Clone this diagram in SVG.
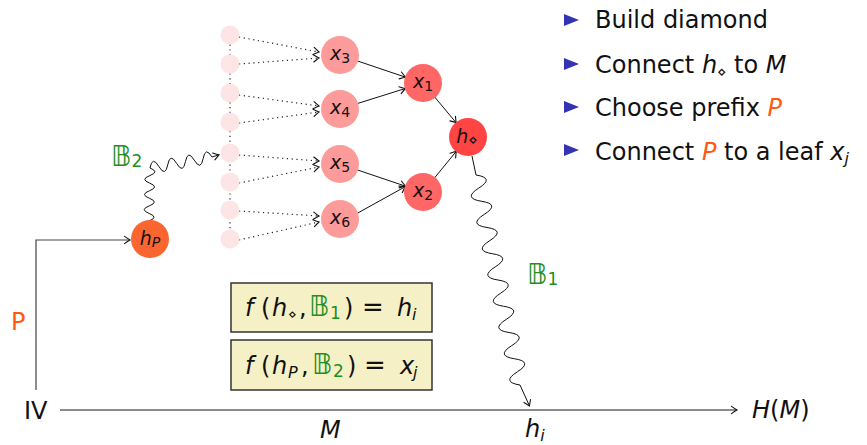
<svg xmlns="http://www.w3.org/2000/svg" width="867" height="445" viewBox="0 0 867 445">
<style>
text{font-family:"DejaVu Sans","Liberation Sans",sans-serif;fill:#111}
.it{font-style:italic}
.g{fill:#1f8f1f}
.o{fill:#ff5a0f}
.ln{fill:none;stroke:#111;stroke-width:1}
.dot{fill:none;stroke:#222;stroke-width:1.2;stroke-dasharray:1.2 3.6}
.snk{fill:none;stroke:#111;stroke-width:1}
.box{fill:#f5f0c6;stroke:#333;stroke-width:1.5}
.nt{font-size:19px}
.sb{font-size:14px}
</style>
<defs>
<marker id="arr" viewBox="-7 -5 8 10" refX="0" refY="0" markerWidth="8" markerHeight="10" orient="auto" markerUnits="userSpaceOnUse">
<path d="M-5.5,-3.6 Q-1.6,-0.9 0,0 Q-1.6,0.9 -5.5,3.6" fill="none" stroke="#111" stroke-width="1.1" stroke-linecap="round"/>
</marker>
</defs>

<g id="connectors">
<path class="dot" d="M230,35 V239" stroke="#999"/>
<path class="dot" d="M239,37 L319,52" marker-end="url(#arr)"/>
<path class="dot" d="M239,64 L319,58" marker-end="url(#arr)"/>
<path class="dot" d="M239,95 L319,106" marker-end="url(#arr)"/>
<path class="dot" d="M239,123 L319,112" marker-end="url(#arr)"/>
<path class="dot" d="M239,155 L319,161" marker-end="url(#arr)"/>
<path class="dot" d="M239,183 L319,167" marker-end="url(#arr)"/>
<path class="dot" d="M239,211 L319,216" marker-end="url(#arr)"/>
<path class="dot" d="M239,240 L319,222" marker-end="url(#arr)"/>
<path class="ln" d="M357,60.8 L405.5,77.2" marker-end="url(#arr)"/>
<path class="ln" d="M357.2,103.6 L405.3,88.5" marker-end="url(#arr)"/>
<path class="ln" d="M357,169.8 L405.5,186.2" marker-end="url(#arr)"/>
<path class="ln" d="M357.1,213.4 L405.4,186.6" marker-end="url(#arr)"/>
<path class="ln" d="M434.5,96.8 L456.2,122.8" marker-end="url(#arr)"/>
<path class="ln" d="M434.4,178.1 L456.3,151.3" marker-end="url(#arr)"/>
<path class="snk" d="M149,221 q10,-3.8 0.14,-7.57 t0.14,-7.57 t0.14,-7.57 t0.14,-7.57 t0.14,-7.57 t0.14,-7.57 t0.14,-7.57 q2.33,-12.6 8.86,-1.57 t8.86,-1.57 t8.86,-1.57 t8.86,-1.57 t8.86,-1.57 t8.86,-1.57 t8.86,-1.57 l7,-2.2" marker-end="url(#arr)"/>
<path class="snk" d="M472,156 L476,175 q19,2.9 2.75,13.125 t2.75,13.125 t2.75,13.125 t2.75,13.125 t2.75,13.125 t2.75,13.125 t2.75,13.125 t2.75,13.125 t2.75,13.125 t2.75,13.125 t2.75,13.125 t2.75,13.125 t2.75,13.125 t2.75,13.125 t2.75,13.125 t2.75,13.125 L529.5,406" marker-end="url(#arr)"/>
<path d="M36,390 V240 H130" fill="none" stroke="#444" stroke-width="1.2" marker-end="url(#arr)"/>
<path d="M60,410 H737" fill="none" stroke="#666" stroke-width="1.6" marker-end="url(#arr)"/>
</g>

<g id="leaves" fill="#fde5e5">
<circle cx="230" cy="35" r="9.5"/>
<circle cx="230" cy="64" r="9.5"/>
<circle cx="230" cy="93" r="9.5"/>
<circle cx="230" cy="122" r="9.5"/>
<circle cx="230" cy="153" r="9.5"/>
<circle cx="230" cy="182" r="9.5"/>
<circle cx="230" cy="210" r="9.5"/>
<circle cx="230" cy="239" r="9.5"/>
</g>

<g id="x3"><circle cx="340" cy="55" r="19" fill="#fd9a9a"/><text class="nt" x="340" y="60" text-anchor="middle"><tspan class="it">x</tspan><tspan class="sb" dy="3">3</tspan></text></g>
<g id="x4"><circle cx="340" cy="109" r="19" fill="#fd9a9a"/><text class="nt" x="340" y="114" text-anchor="middle"><tspan class="it">x</tspan><tspan class="sb" dy="3">4</tspan></text></g>
<g id="x5"><circle cx="340" cy="164" r="19" fill="#fd9a9a"/><text class="nt" x="340" y="169" text-anchor="middle"><tspan class="it">x</tspan><tspan class="sb" dy="3">5</tspan></text></g>
<g id="x6"><circle cx="340" cy="219" r="19" fill="#fd9a9a"/><text class="nt" x="340" y="224" text-anchor="middle"><tspan class="it">x</tspan><tspan class="sb" dy="3">6</tspan></text></g>
<g id="x1"><circle cx="423" cy="83" r="19" fill="#ff6666"/><text class="nt" x="423" y="88" text-anchor="middle"><tspan class="it">x</tspan><tspan class="sb" dy="3">1</tspan></text></g>
<g id="x2"><circle cx="423" cy="192" r="19" fill="#ff6666"/><text class="nt" x="423" y="197" text-anchor="middle"><tspan class="it">x</tspan><tspan class="sb" dy="3">2</tspan></text></g>
<g id="hd"><circle cx="468" cy="137" r="19" fill="#ff4444"/><text class="nt" x="467" y="143" text-anchor="middle"><tspan class="it">h</tspan><tspan font-size="15" dy="2">⋄</tspan></text></g>
<g id="hP"><circle cx="150" cy="239" r="19" fill="#fb6530"/><text class="nt" x="150" y="245" text-anchor="middle"><tspan class="it">h</tspan><tspan class="it sb" dy="2">P</tspan></text></g>

<g id="labels">
<text x="111" y="166" font-size="28" class="g">𝔹<tspan font-size="17" dy="1">2</tspan></text>
<text x="527" y="284" font-size="28" class="g">𝔹<tspan font-size="17" dy="1">1</tspan></text>
<text x="11" y="330" font-size="24" class="o">P</text>
<text x="24" y="419" font-size="24">IV</text>
<text x="752" y="418" font-size="24"><tspan class="it">H</tspan>(<tspan class="it">M</tspan>)</text>
<text x="320" y="438" font-size="24" class="it">M</text>
<text x="525" y="437" font-size="24"><tspan class="it">h</tspan><tspan class="it" font-size="16" dy="4">i</tspan></text>
</g>

<g id="box1"><rect class="box" x="231" y="283" width="201" height="49"/>
<text y="316" font-size="24"><tspan class="it" x="245">f</tspan><tspan x="261">(</tspan><tspan class="it" x="272">h</tspan><tspan font-size="14" x="288" dy="3">⋄</tspan><tspan x="299" dy="-3">,</tspan><tspan class="g" font-size="28" x="309">𝔹</tspan><tspan class="g" font-size="17" x="330" dy="3">1</tspan><tspan x="344" dy="-3">)</tspan><tspan x="362" font-size="26">=</tspan><tspan class="it" x="397">h</tspan><tspan class="it" font-size="16" x="412" dy="4">i</tspan></text></g>
<g id="box2"><rect class="box" x="231" y="340" width="201" height="50"/>
<text y="374" font-size="24"><tspan class="it" x="245">f</tspan><tspan x="261">(</tspan><tspan class="it" x="272">h</tspan><tspan class="it" font-size="16" x="288" dy="4">P</tspan><tspan x="301" dy="-4">,</tspan><tspan class="g" font-size="28" x="312">𝔹</tspan><tspan class="g" font-size="17" x="333" dy="3">2</tspan><tspan x="347" dy="-3">)</tspan><tspan x="364" font-size="26">=</tspan><tspan class="it" x="400">x</tspan><tspan class="it" font-size="16" x="413" dy="4">j</tspan></text></g>

<g id="bullets">
<path d="M564,14 L579,20 L564,26 Z" fill="#3333b3"/>
<path d="M564,58 L579,64 L564,70 Z" fill="#3333b3"/>
<path d="M564,101 L579,107 L564,113 Z" fill="#3333b3"/>
<path d="M564,144 L579,150 L564,156 Z" fill="#3333b3"/>
<text x="595" y="28" font-size="24">Build diamond</text>
<text x="595" y="73" font-size="24">Connect <tspan class="it">h</tspan><tspan font-size="15" dy="4">⋄</tspan><tspan dy="-4"> to </tspan><tspan class="it">M</tspan></text>
<text x="595" y="116" font-size="24">Choose prefix <tspan class="it o">P</tspan></text>
<text x="595" y="160" font-size="24">Connect <tspan class="it o">P</tspan> to a leaf <tspan class="it">x</tspan><tspan class="it" font-size="16" dy="4">j</tspan></text>
</g>
</svg>
